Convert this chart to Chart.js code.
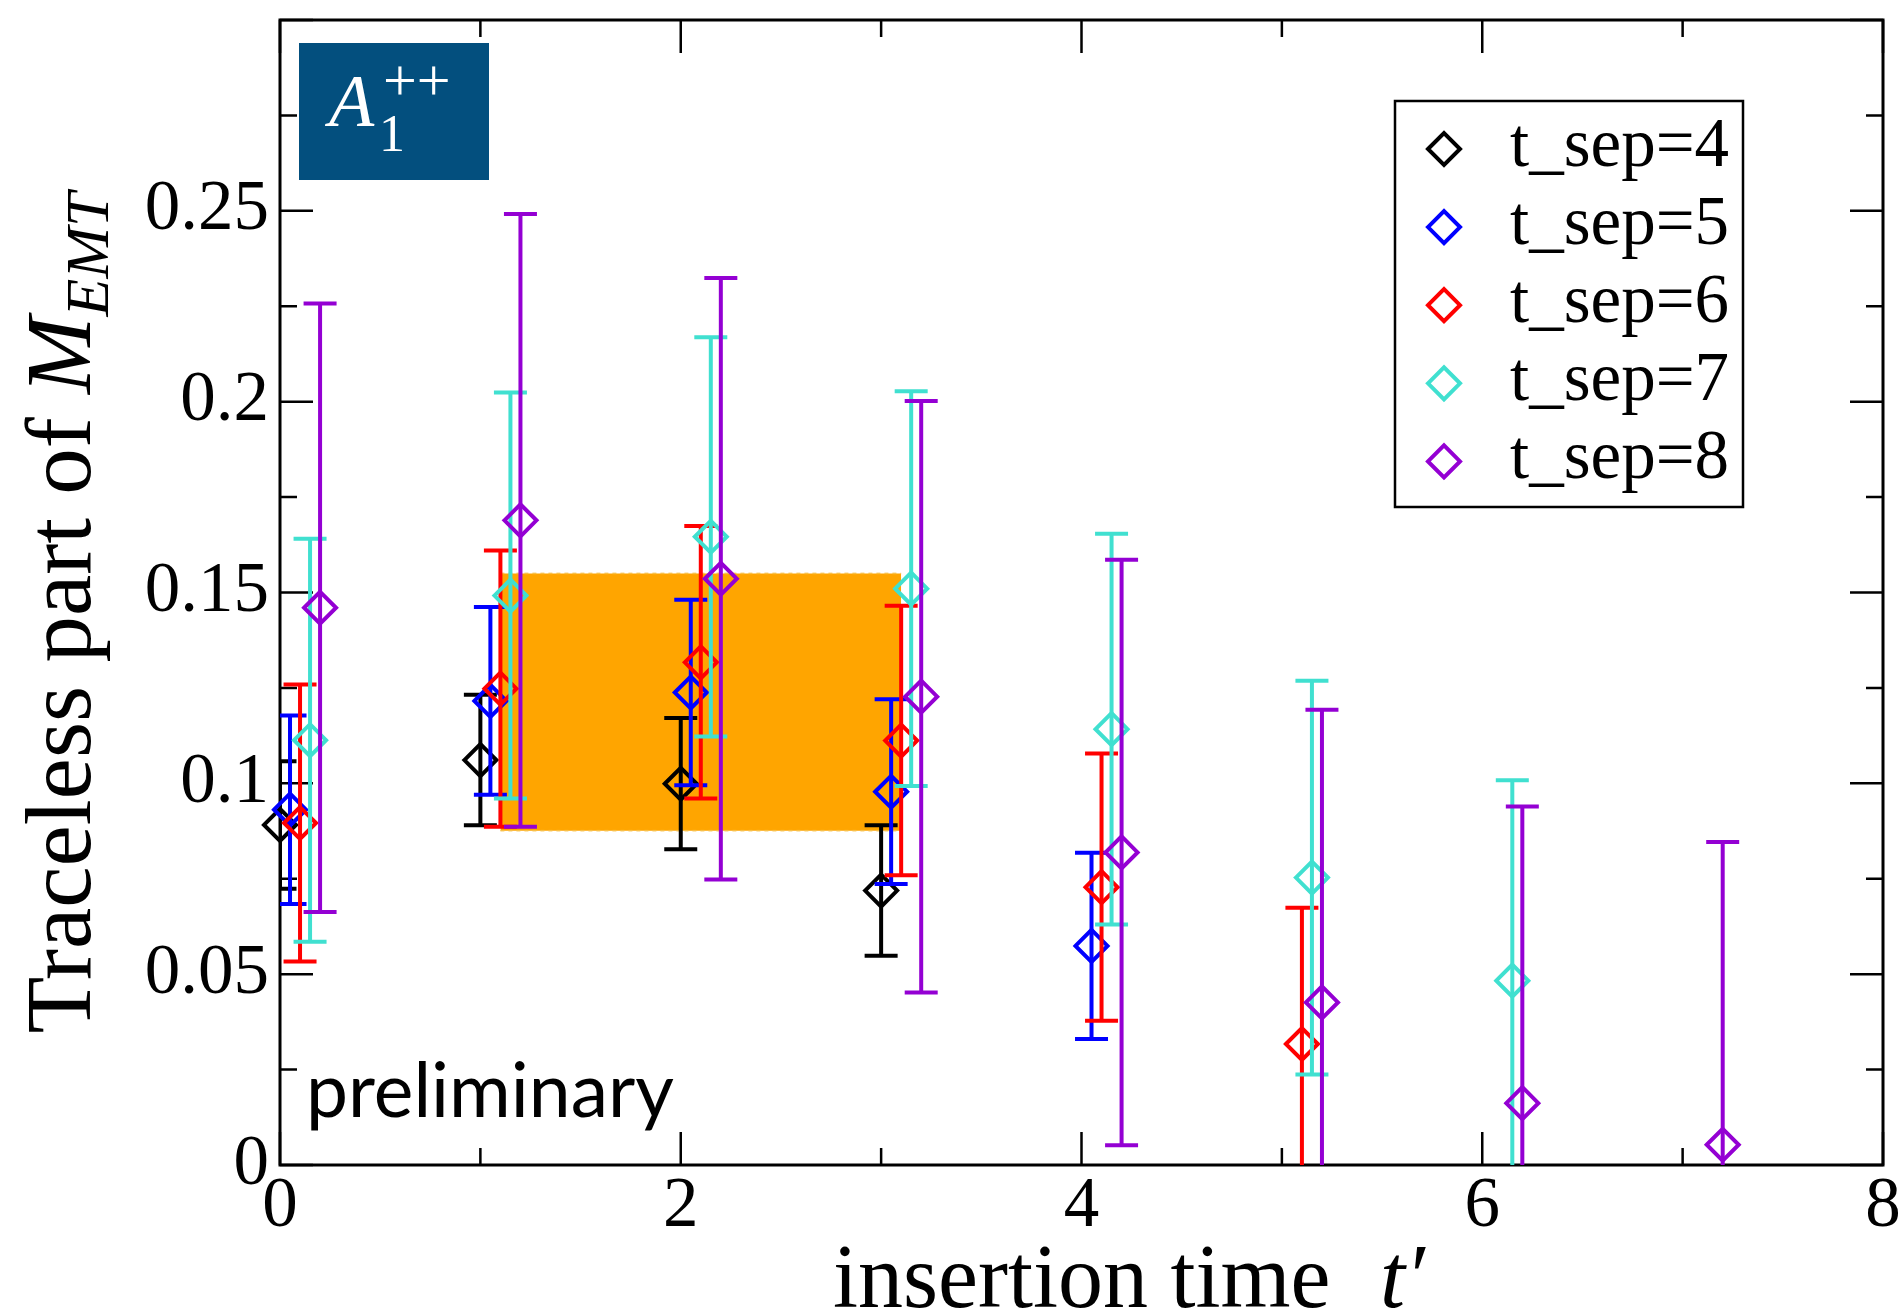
<!DOCTYPE html>
<html>
<head>
<meta charset="utf-8">
<title>Traceless part of M_EMT vs insertion time</title>
<script src="https://cdn.jsdelivr.net/npm/chart.js@4.4.1/dist/chart.umd.min.js"></script>
<style>
  html, body { margin: 0; padding: 0; background: #fff; }
  canvas { display: block; }
</style>
</head>
<body>
<canvas id="emtChart" width="1903" height="1313"></canvas>
<script>
// one series per source-sink separation, points at insertion times t'
const seriesNames  = ["t_sep=4", "t_sep=5", "t_sep=6", "t_sep=7", "t_sep=8"];
const seriesColors = ["#000000", "#0000ff", "#ff0000", "#40e0d0", "#9400d3"];
const xShift       = [0, 0.05, 0.1, 0.15, 0.2];   // small horizontal offset per series

const tsep4Times = [0, 1, 2, 3];
const tsep4Vals  = [0.0891, 0.1061, 0.0999, 0.0719];
const tsep4Errs  = [0.0167, 0.0171, 0.0172, 0.0171];

const tsep5Times = [0, 1, 2, 3, 4];
const tsep5Vals  = [0.0931, 0.1216, 0.1238, 0.0978, 0.0574];
const tsep5Errs  = [0.0247, 0.0246, 0.0243, 0.0242, 0.0244];

const tsep6Times = [0, 1, 2, 3, 4, 5];
const tsep6Vals  = [0.0896, 0.1248, 0.1317, 0.1112, 0.0728, 0.0317];
const tsep6Errs  = [0.0363, 0.0362, 0.0357, 0.0353, 0.0350, 0.0357];

const tsep7Times = [0, 1, 2, 3, 4, 5, 6];
const tsep7Vals  = [0.1113, 0.1492, 0.1646, 0.1510, 0.1142, 0.0753, 0.0483];
const tsep7Errs  = [0.0528, 0.0532, 0.0523, 0.0517, 0.0512, 0.0516, 0.0525];

const tsep8Times = [0, 1, 2, 3, 4, 5, 6, 7];
const tsep8Vals  = [0.1460, 0.1689, 0.1536, 0.1227, 0.0819, 0.0426, 0.0162, 0.0053];
const tsep8Errs  = [0.0797, 0.0803, 0.0788, 0.0775, 0.0767, 0.0767, 0.0777, 0.0793];

// fit result band
const fitTimes = [1.1, 3.1];
const fitLow   = [0.0876, 0.0876];
const fitHigh  = [0.155, 0.155];

const xTickLabels = ["0", "2", "4", "6", "8"];
const yTickLabels = ["0", "0.05", "0.1", "0.15", "0.2", "0.25"];

const allTimes = [tsep4Times, tsep5Times, tsep6Times, tsep7Times, tsep8Times];
const allVals  = [tsep4Vals, tsep5Vals, tsep6Vals, tsep7Vals, tsep8Vals];
const allErrs  = [tsep4Errs, tsep5Errs, tsep6Errs, tsep7Errs, tsep8Errs];

const SERIF = "'Liberation Serif', 'Times New Roman', serif";

const seriesSets = seriesNames.map((name, k) => ({
  type: "scatter",
  label: name,
  data: allTimes[k].map((t, i) => ({ x: t + xShift[k], y: allVals[k][i] })),
  errors: allErrs[k],
  borderColor: seriesColors[k],
  backgroundColor: "rgba(0,0,0,0)",
  pointStyle: "rectRot",
  pointRadius: 16,
  pointBorderWidth: 4,
  clip: false,
  order: 4 - k          // later separations drawn on top
}));

const bandSets = [
  {
    type: "line", label: "fit-low",
    data: fitTimes.map((t, i) => ({ x: t, y: fitLow[i] })),
    borderColor: "#f7c04a", borderWidth: 1.5, borderDash: [4, 4],
    pointRadius: 0, fill: false, order: 10
  },
  {
    type: "line", label: "fit-high",
    data: fitTimes.map((t, i) => ({ x: t, y: fitHigh[i] })),
    borderColor: "#f7c04a", borderWidth: 1.5, borderDash: [4, 4],
    backgroundColor: "#ffa500",
    pointRadius: 0, fill: "-1", order: 10
  }
];

// vertical error bars with caps, drawn just before each series' markers
const errorBars = {
  id: "errorBars",
  beforeDatasetDraw(chart, args) {
    const ds = chart.data.datasets[args.index];
    if (!ds.errors) return;
    const { ctx, chartArea: a, scales: { x, y } } = chart;
    const cap = 16.5;
    ctx.save();
    ctx.beginPath();
    ctx.rect(a.left, a.top, a.right - a.left, a.bottom - a.top);
    ctx.clip();
    ctx.strokeStyle = ds.borderColor;
    ctx.lineWidth = 4;
    ds.data.forEach((p, i) => {
      const px = x.getPixelForValue(p.x);
      const lo = y.getPixelForValue(p.y - ds.errors[i]);
      const hi = y.getPixelForValue(p.y + ds.errors[i]);
      ctx.beginPath();
      ctx.moveTo(px, lo); ctx.lineTo(px, hi);
      ctx.moveTo(px - cap, lo); ctx.lineTo(px + cap, lo);
      ctx.moveTo(px - cap, hi); ctx.lineTo(px + cap, hi);
      ctx.stroke();
    });
    ctx.restore();
  }
};

// frame with inward major/minor ticks on all four sides
const frameTicks = {
  id: "frameTicks",
  beforeDatasetsDraw(chart) {
    const { ctx, chartArea: a, scales: { x, y } } = chart;
    ctx.save();
    ctx.strokeStyle = "#000";
    ctx.lineWidth = 2.5;
    ctx.beginPath();
    for (let t = 0; t <= 8; t++) {
      const px = x.getPixelForValue(t);
      const len = t % 2 === 0 ? 33 : 17;
      ctx.moveTo(px, a.bottom); ctx.lineTo(px, a.bottom - len);
      ctx.moveTo(px, a.top); ctx.lineTo(px, a.top + len);
    }
    for (let j = 0; j <= 12; j++) {
      const py = y.getPixelForValue(j * 0.025);
      const len = j % 2 === 0 ? 33 : 17;
      ctx.moveTo(a.left, py); ctx.lineTo(a.left + len, py);
      ctx.moveTo(a.right, py); ctx.lineTo(a.right - len, py);
    }
    ctx.stroke();
    ctx.lineWidth = 3;
    ctx.strokeRect(a.left, a.top, a.right - a.left, a.bottom - a.top);
    ctx.restore();
  }
};

// titles, channel label, legend box and "preliminary" note
const decorations = {
  id: "decorations",
  afterDraw(chart) {
    const { ctx, chartArea: a } = chart;
    ctx.save();
    ctx.fillStyle = "#000";
    ctx.textBaseline = "alphabetic";
    ctx.textAlign = "left";

    // x title
    ctx.font = "90px " + SERIF;
    ctx.fillText("insertion time", 833, 1307);
    ctx.font = "italic 90px " + SERIF;
    ctx.fillText("t\u2032", 1380, 1307);

    // y title, reading upward
    ctx.save();
    ctx.translate(90, 613);
    ctx.rotate(-Math.PI / 2);
    const partA = "Traceless part of ";
    ctx.font = "93px " + SERIF;
    const wA = ctx.measureText(partA).width;
    ctx.font = "italic 93px " + SERIF;
    const wM = ctx.measureText("M").width;
    ctx.font = "italic 62px " + SERIF;
    const wS = ctx.measureText("EMT").width;
    let cx = -(wA + wM + wS) / 2;
    ctx.font = "93px " + SERIF;
    ctx.fillText(partA, cx, 0); cx += wA;
    ctx.font = "italic 93px " + SERIF;
    ctx.fillText("M", cx, 0); cx += wM;
    ctx.font = "italic 62px " + SERIF;
    ctx.fillText("EMT", cx, 18);
    ctx.restore();

    // channel label box
    const bx = a.left + 19, by = a.top + 23;
    ctx.fillStyle = "#034f7e";
    ctx.fillRect(bx, by, 190, 137);
    ctx.fillStyle = "#fff";
    ctx.font = "italic 74px " + SERIF;
    ctx.fillText("A", bx + 30, by + 83);
    ctx.font = "52px " + SERIF;
    ctx.fillText("1", bx + 80, by + 108);
    ctx.font = "60px " + SERIF;
    ctx.fillText("++", bx + 84, by + 57);

    // legend
    const lx = a.right - 488, ly = a.top + 81;
    ctx.fillStyle = "#fff";
    ctx.fillRect(lx, ly, 348, 406);
    ctx.strokeStyle = "#000";
    ctx.lineWidth = 2.5;
    ctx.strokeRect(lx, ly, 348, 406);
    seriesNames.forEach((name, k) => {
      const cy = ly + 48 + 78.1 * k;
      const dx = lx + 49, r = 16;
      ctx.beginPath();
      ctx.moveTo(dx - r, cy); ctx.lineTo(dx, cy - r);
      ctx.lineTo(dx + r, cy); ctx.lineTo(dx, cy + r);
      ctx.closePath();
      ctx.strokeStyle = seriesColors[k];
      ctx.lineWidth = 4;
      ctx.stroke();
      ctx.fillStyle = "#000";
      ctx.font = "69px " + SERIF;
      ctx.fillText(name, lx + 115, cy + 17);
    });

    // preliminary note
    ctx.fillStyle = "#000";
    ctx.font = "75px Lato, 'Open Sans', sans-serif";
    ctx.fillText("preliminary", a.left + 26, a.bottom - 48);
    ctx.restore();
  }
};

new Chart(document.getElementById("emtChart").getContext("2d"), {
  type: "scatter",
  data: { datasets: [...seriesSets, ...bandSets] },
  plugins: [frameTicks, errorBars, decorations],
  options: {
    responsive: false,
    animation: false,
    events: [],
    layout: { padding: { top: 16, right: 17, left: 0, bottom: 0 } },
    plugins: { legend: { display: false }, tooltip: { enabled: false } },
    scales: {
      x: {
        type: "linear", min: 0, max: 8,
        grid: { display: false, drawTicks: false },
        border: { display: false },
        afterFit(s) { s.height = 148; s.paddingLeft = 0; s.paddingRight = 0; },
        ticks: {
          stepSize: 2, padding: 0, maxRotation: 0, autoSkip: false,
          color: "#000", font: { family: SERIF, size: 71 },
          callback: (v, i) => xTickLabels[i]
        }
      },
      y: {
        type: "linear", min: 0, max: 0.3,
        grid: { display: false, drawTicks: false },
        border: { display: false },
        afterFit(s) { s.width = 280; s.paddingTop = 0; s.paddingBottom = 0; },
        ticks: {
          stepSize: 0.05, padding: 11, autoSkip: false,
          color: "#000", font: { family: SERIF, size: 71 },
          callback: (v, i) => yTickLabels[i]
        }
      }
    }
  }
});
</script>
</body>
</html>
